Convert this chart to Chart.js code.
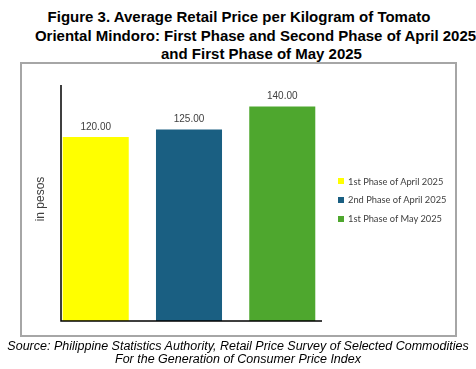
<!DOCTYPE html>
<html>
<head>
<meta charset="utf-8">
<script src="https://cdn.jsdelivr.net/npm/chart.js@4"></script>
<style>
  body { margin: 0; background: #fff; }
  #wrap { position: relative; width: 476px; height: 369px; overflow: hidden; }
  .t { position: absolute; width: 476px; text-align: center; white-space: nowrap;
       font: bold 15px "Liberation Sans", Arial, sans-serif; line-height: 16px; color: #000; }
  .s { position: absolute; width: 476px; text-align: center; white-space: nowrap;
       font: italic 12.5px "Liberation Sans", Arial, sans-serif; line-height: 13px; color: #000; }
  #box { position: absolute; left: 20px; top: 62px; width: 437px; height: 275px;
         box-sizing: border-box; border: 2px solid #a6a6a6; }
  #c { position: absolute; left: 0; top: 0; }
  #legend { position: absolute; left: 338px; top: 172.6px; font: 9.3px Lato, sans-serif; color: #404040; }
  #legend div { height: 18.8px; line-height: 18.8px; white-space: nowrap; }
  #legend span { display: inline-block; width: 6px; height: 6px; margin-right: 4px; vertical-align: middle; position: relative; top: -1px; }
</style>
</head>
<body>
<div id="wrap">
  <div class="t" style="left:1px; top:9px;">Figure 3. Average Retail Price per Kilogram of Tomato</div>
  <div class="t" style="left:17.5px; top:27.5px;">Oriental Mindoro: First Phase and Second Phase of April 2025</div>
  <div class="t" style="left:23.5px; top:46px;">and First Phase of May 2025</div>
  <div id="box"></div>
  <canvas id="c" width="476" height="369"></canvas>
  <div id="legend"></div>
  <div class="s" style="left:0; top:340px;">Source: Philippine Statistics Authority, Retail Price Survey of Selected Commodities</div>
  <div class="s" style="left:0; top:353px;">For the Generation of Consumer Price Index</div>
</div>
<script>
// data
const periods = ['1st Phase of April 2025', '2nd Phase of April 2025', '1st Phase of May 2025'];
const prices = [120.00, 125.00, 140.00];
const barColors = ['#FFFF00', '#1A5F82', '#4EA72E'];
const yTitle = 'in pesos';

// value labels above the bars
const valueLabels = {
  id: 'valueLabels',
  afterDatasetsDraw(chart) {
    const ctx = chart.ctx;
    ctx.save();
    ctx.font = '10px "Liberation Sans", Arial, sans-serif';
    ctx.fillStyle = '#404040';
    ctx.textAlign = 'center';
    ctx.textBaseline = 'middle';
    chart.data.datasets.forEach((ds, i) => {
      const bar = chart.getDatasetMeta(i).data[0];
      ctx.fillText(ds.data[0].toFixed(2), bar.x, bar.y - 10);
    });
    ctx.restore();
  }
};

// axis lines + y title
const axisLines = {
  id: 'axisLines',
  afterDraw(chart) {
    const { ctx, chartArea } = chart;
    ctx.save();
    ctx.strokeStyle = '#000';
    ctx.lineWidth = 1.5;
    ctx.beginPath();
    ctx.moveTo(chartArea.left, chartArea.top);
    ctx.lineTo(chartArea.left, chartArea.bottom);
    ctx.lineTo(chartArea.right + 5, chartArea.bottom);
    ctx.stroke();
    ctx.translate(chartArea.left - 20, (chartArea.top + chartArea.bottom) / 2 - 4);
    ctx.rotate(-Math.PI / 2);
    ctx.font = '12px "Liberation Sans", Arial, sans-serif';
    ctx.fillStyle = '#404040';
    ctx.textAlign = 'center';
    ctx.textBaseline = 'middle';
    ctx.fillText(yTitle, 0, 0);
    ctx.restore();
  }
};

const chart = new Chart(document.getElementById('c').getContext('2d'), {
  type: 'bar',
  data: {
    labels: [''],
    datasets: periods.map((p, i) => ({
      label: p,
      data: [prices[i]],
      backgroundColor: barColors[i],
      categoryPercentage: 1.093,
      barPercentage: 0.708
    }))
  },
  options: {
    responsive: false,
    animation: false,
    layout: { padding: { left: 61, top: 85, bottom: 48, right: 159 } },
    scales: {
      x: {
        ticks: { display: false },
        grid: { display: false },
        border: { display: false },
        afterFit: s => { s.height = 0; }
      },
      y: {
        display: false,
        min: 0,
        max: 154
      }
    },
    plugins: {
      legend: { display: false },
      tooltip: { enabled: false }
    }
  },
  plugins: [valueLabels, axisLines]
});

// html legend
const legend = document.getElementById('legend');
chart.data.datasets.forEach(ds => {
  const row = document.createElement('div');
  const box = document.createElement('span');
  box.style.background = ds.backgroundColor;
  row.appendChild(box);
  row.appendChild(document.createTextNode(ds.label));
  legend.appendChild(row);
});
</script>
</body>
</html>
